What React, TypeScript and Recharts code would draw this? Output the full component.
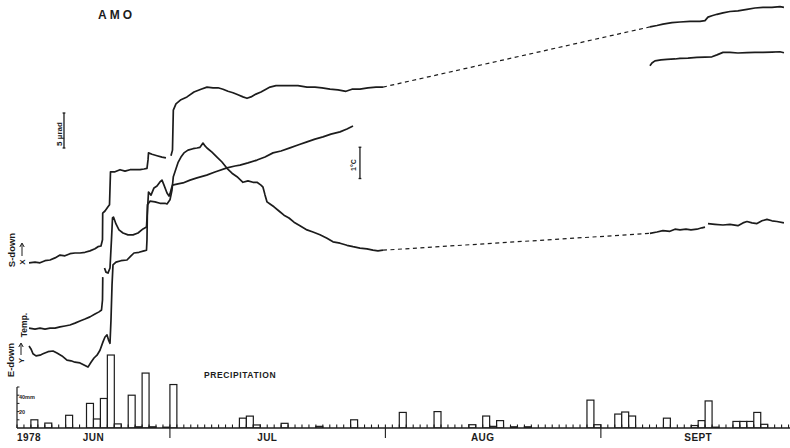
import React from 'react'
import { Bar, ComposedChart, Line, ReferenceLine, XAxis, YAxis } from 'recharts'

const INK = '#1c1c1c'
const FONT = '"Liberation Sans", Arial, Helvetica, sans-serif'
const DAY_PX = 6.95

// time axis: days counted from 1 June 1978 (day 30 = 1 Jul, 61 = 1 Aug, 92 = 1 Sep)
const dayTicks = Array.from({ length: 112 }, (_, i) => 8 + i)
const monthStarts = [30, 61, 92]
const labelDays = [8, 19, 44, 75, 106]
const labelTexts = ['1978', 'JUN', 'JUL', 'AUG', 'SEPT']

// daily precipitation (mm)
const rainDay = [10, 12, 15, 18, 19, 20, 21, 22, 24, 25, 26, 27, 29, 30, 40, 41, 42, 46, 51, 56, 63, 68, 73, 75, 76, 77, 79, 81, 90, 91, 94, 95, 96, 101, 105, 106, 107, 108, 111, 112, 113, 114, 115]
const rainMm = [10, 6, 15.5, 30, 11, 36, 89, 5, 40, 1.5, 67, 1.5, 1, 53, 12, 14.5, 3.7, 5.7, 2, 10, 19, 20, 4, 14.6, 2, 9, 1.5, 1.5, 34, 4, 17, 19.5, 14.6, 12, 3, 9, 33, 1, 8, 8, 8, 19, 4.5]
const rainAxisTicks = [10, 20, 30, 40, 50]

type Pt = [number, number | null]

// S-down tilt X (µrad, arbitrary origin)
const sDownX: Pt[] = [
  [9.73, 23.6], [10.59, 23.7], [11.31, 23.6], [12.03, 23.9], [12.75, 24.0], [13.47, 24.3], [14.19, 24.7], [14.9, 24.6],
  [15.62, 24.9], [16.34, 25.0], [17.06, 25.0], [17.78, 25.1], [18.5, 25.3], [19.22, 25.6], [19.65, 25.9], [20.08, 26.0],
  [20.3, 26.9], [20.33, 30.7], [20.66, 31.0], [21.09, 31.6], [21.31, 31.9], [21.45, 36.6], [22.1, 36.6], [22.82, 36.9],
  [23.54, 36.7], [24.26, 36.9], [24.98, 36.9], [25.69, 36.9], [26.27, 37.0], [26.7, 37.1], [26.85, 38.3], [26.92, 39.3],
  [27.42, 39.1], [28.14, 38.9], [28.86, 38.7], [29.43, 38.6], [29.8, null], [30.15, 38.9], [30.37, 39.7], [30.49, 45.4],
  [30.87, 46.3], [31.59, 46.9], [32.46, 47.3], [33.46, 48.0], [34.47, 48.4], [35.33, 48.7], [36.2, 48.6], [36.92, 48.6],
  [37.64, 48.4], [38.35, 48.1], [39.07, 47.9], [39.79, 47.6], [40.51, 47.3], [41.09, 47.1], [41.66, 47.3], [42.38, 47.7],
  [43.1, 48.0], [43.82, 48.4], [44.4, 48.7], [45.26, 48.9], [46.27, 48.9], [47.27, 48.9], [48.42, 48.9], [49.72, 48.7],
  [50.87, 48.7], [51.88, 48.6], [53.03, 48.4], [54.18, 48.3], [55.33, 48.1], [56.19, 48.4], [57.34, 48.4], [58.49, 48.6],
  [59.65, 48.7], [60.65, 48.7],
]
const sDownGap: Pt[] = [[60.65, 48.7], [99.06, 57.3]]
const sDownLate: Pt[] = [
  [99.06, 57.3], [100.07, 57.5], [100.93, 57.7], [102.23, 57.9], [103.38, 58.0], [104.82, 58.1], [106.26, 58.1],
  [106.98, 58.2], [107.41, 58.7], [107.98, 58.9], [108.7, 59.1], [109.57, 59.3], [110.57, 59.5], [111.72, 59.6],
  [113.02, 59.8], [114.17, 60.0], [115.32, 60.1], [116.61, 60.1], [117.77, 60.2], [118.34, 60.1],
]

// temperature (°C, arbitrary origin)
const temp: Pt[] = [
  [9.73, 3.19], [10.59, 3.16], [11.31, 3.19], [12.03, 3.16], [12.75, 3.19], [13.47, 3.19], [14.19, 3.23], [14.9, 3.26],
  [15.62, 3.29], [16.34, 3.35], [17.06, 3.42], [17.78, 3.48], [18.5, 3.55], [19.22, 3.64], [19.8, 3.71], [20.16, 3.77],
  [20.3, 4.09], [20.34, 4.82], [20.45, null], [20.59, 5.11], [20.8, 4.98], [21.09, 4.95], [21.38, 5.11], [21.59, 6.01],
  [21.74, 6.71], [21.88, 6.74], [22.24, 6.52], [22.67, 6.33], [23.25, 6.23], [23.97, 6.17], [24.69, 6.17], [25.41, 6.23],
  [26.13, 6.36], [26.63, 6.42], [26.77, 6.96], [26.92, 7.54], [27.28, 7.44], [27.71, 7.67], [28.14, 7.73], [28.57, 7.86],
  [28.86, 7.92], [29.15, 7.76], [29.58, 7.51], [29.87, 7.41], [30.01, 7.48], [30.15, 7.6], [30.37, 7.76], [31.16, 7.8],
  [31.88, 7.83], [32.89, 7.92], [33.89, 7.99], [35.29, 8.08], [36.48, 8.18], [38.21, 8.31], [39.36, 8.37], [40.08, 8.4],
  [41.23, 8.47], [42.53, 8.56], [43.68, 8.66], [44.83, 8.79], [45.98, 8.85], [47.27, 8.95], [48.42, 9.04], [49.72, 9.14],
  [50.87, 9.23], [52.02, 9.3], [53.17, 9.39], [54.47, 9.46], [55.47, 9.55], [56.34, 9.65],
]
const tempLate: Pt[] = [
  [99.06, 11.57], [99.35, 11.66], [99.78, 11.73], [100.65, 11.76], [101.51, 11.78], [102.66, 11.79], [103.38, 11.81],
  [104.53, 11.82], [105.82, 11.84], [106.98, 11.85], [107.98, 11.86], [108.7, 11.92], [109.57, 12.0], [110.57, 12.0],
  [111.72, 11.98], [113.02, 11.99], [114.17, 12.0], [115.32, 12.0], [116.61, 12.01], [117.77, 12.02], [118.34, 11.99],
]

// E-down tilt Y (µrad, arbitrary origin)
const eDownY: Pt[] = [
  [9.73, 11.7], [10.01, 11.3], [10.3, 10.6], [10.73, 10.3], [11.31, 10.4], [11.74, 10.6], [12.46, 10.9], [13.18, 11.0],
  [13.75, 10.7], [14.47, 10.3], [15.19, 9.7], [15.77, 9.6], [16.34, 9.4], [17.06, 9.3], [17.64, 9.0], [18.21, 8.7],
  [18.65, 9.4], [19.08, 10.0], [19.51, 10.4], [19.94, 11.1], [20.37, 12.3], [20.66, 13.0], [20.95, 13.3], [21.16, 12.6],
  [21.38, 12.1], [21.52, 15.4], [21.67, 20.4], [21.81, 23.3], [22.24, 23.7], [22.96, 23.9], [23.82, 24.0], [24.4, 24.6],
  [24.83, 25.0], [25.55, 25.1], [26.27, 25.3], [26.63, 25.4], [26.7, 26.9], [26.77, 31.9], [27.13, 32.4], [27.85, 32.3],
  [28.57, 32.1], [29.29, 32.1], [29.58, 32.0], [30.01, 32.6], [30.3, 34.0], [30.49, 35.9], [30.73, 36.6], [31.16, 37.9],
  [31.59, 38.7], [32.02, 39.3], [32.6, 39.7], [33.32, 39.9], [33.89, 40.0], [34.33, 40.1], [34.76, 40.7], [35.05, 40.3],
  [35.33, 40.0], [36.05, 39.4], [36.77, 38.7], [37.49, 38.0], [38.21, 37.1], [38.93, 36.4], [39.65, 35.9], [40.51, 35.1],
  [41.23, 35.3], [41.95, 35.1], [42.53, 35.1], [43.1, 34.7], [43.39, 34.4], [43.68, 33.3], [43.97, 32.3], [44.4, 32.0],
  [44.97, 31.6], [45.69, 31.0], [46.41, 30.4], [47.13, 30.0], [47.85, 29.4], [48.71, 28.9], [49.72, 28.3], [50.58, 28.0],
  [51.59, 27.6], [52.6, 27.1], [53.46, 26.6], [54.47, 26.4], [55.47, 26.1], [56.34, 25.9], [57.34, 25.7], [58.35, 25.6],
  [59.21, 25.4], [59.93, 25.3], [60.65, 25.4],
]
const eDownGap: Pt[] = [[60.65, 25.4], [99.06, 27.8]]
const eDownLate: Pt[] = [
  [99.06, 27.8], [100.07, 28.0], [100.93, 28.2], [101.94, 28.1], [102.66, 28.4], [103.38, 28.3], [104.24, 28.4],
  [104.96, 28.3], [105.82, 28.4], [106.54, 28.6], [106.98, 28.7], [107.2, null], [107.41, 29.2], [108.41, 29.1],
  [109.57, 29.0], [110.57, 29.1], [111.72, 28.9], [112.44, 29.3], [113.02, 29.5], [113.74, 29.3], [114.46, 29.2],
  [115.18, 29.6], [115.89, 29.8], [116.61, 29.6], [117.33, 29.5], [118.34, 29.3],
]

// scale bars: 5 µrad and 1 °C
const tiltBar = { day: 14.76, from: 40, to: 45 }
const tempBar = { day: 57.34, from: 7.97, to: 8.97 }

const rows = (pts: Pt[]) => pts.map(([day, v]) => ({ day, v }))
const rainData = rainDay.map((d, i) => ({ day: d + 0.5, mm: rainMm[i] }))

function DayTick(props: any) {
  const { x, y, payload } = props
  const d = payload.value
  const month = monthStarts.includes(d)
  const li = labelDays.indexOf(d)
  return (
    <g>
      <line x1={x} x2={x} y1={y - 3.5} y2={y + (month ? 10 : 0)} stroke={INK} strokeWidth={1.1} />
      {li >= 0 && (
        <text
          x={x}
          y={y + 12.5}
          textAnchor={li === 0 ? 'start' : 'middle'}
          fontFamily={FONT}
          fontWeight="bold"
          fontSize={10}
          letterSpacing={0.4}
          fill={INK}
        >
          {labelTexts[li]}
        </text>
      )}
    </g>
  )
}

// one-day-wide open bar, centred on the x the library computed
function DayBar(props: any) {
  const { x, y, width, height } = props
  if (height == null || height <= 0) return null
  const cx = x + width / 2
  return <rect x={cx - DAY_PX / 2} y={y} width={DAY_PX} height={height} fill="#fff" stroke={INK} strokeWidth={1.2} />
}

const traceProps = {
  type: 'linear' as const,
  dataKey: 'v',
  stroke: INK,
  strokeWidth: 1.7,
  dot: false,
  activeDot: false,
  isAnimationActive: false,
  strokeLinejoin: 'round' as const,
}
const gapProps = { ...traceProps, strokeWidth: 1.2, strokeDasharray: '4 3.5' }

function VText({ x, y, size, children, bold = true }: any) {
  return (
    <text
      x={x}
      y={y}
      transform={`rotate(-90 ${x} ${y})`}
      textAnchor="middle"
      dominantBaseline="central"
      fontFamily={FONT}
      fontWeight={bold ? 'bold' : 'normal'}
      fontSize={size}
      fill={INK}
    >
      {children}
    </text>
  )
}

export default function App() {
  return (
    <div style={{ position: 'absolute', left: 0, top: 0, width: 790, height: 448, background: '#fff' }}>
      <ComposedChart width={790} height={448} data={rainData} margin={{ top: 0, right: 0, bottom: 0, left: 17 }}>
        <XAxis
          type="number"
          dataKey="day"
          domain={[8, 119.21]}
          allowDataOverflow
          ticks={dayTicks}
          interval={0}
          tickLine={false}
          tickSize={0}
          tickMargin={0}
          tick={(p: any) => <DayTick {...p} />}
          height={20}
          axisLine={{ stroke: INK, strokeWidth: 1.4 }}
        />
        <YAxis yAxisId="tilt" hide domain={[0, 61.143]} allowDataOverflow />
        <YAxis yAxisId="temp" hide domain={[0, 13.674]} allowDataOverflow />
        <YAxis yAxisId="rain" hide domain={[0, 522]} allowDataOverflow />

        <Bar yAxisId="rain" dataKey="mm" barSize={7} shape={(p: any) => <DayBar {...p} />} isAnimationActive={false} />

        <ReferenceLine yAxisId="rain" segment={[{ x: 8, y: 0 }, { x: 8, y: 50 }]} stroke={INK} strokeWidth={1.2} />
        {rainAxisTicks.map((t) => (
          <ReferenceLine key={t} yAxisId="rain" segment={[{ x: 8, y: t }, { x: 8.35, y: t }]} stroke={INK} strokeWidth={1} />
        ))}

        <ReferenceLine yAxisId="tilt" segment={[{ x: tiltBar.day, y: tiltBar.from }, { x: tiltBar.day, y: tiltBar.to }]} stroke={INK} strokeWidth={1.3} />
        <ReferenceLine yAxisId="tilt" segment={[{ x: tiltBar.day - 0.2, y: tiltBar.from }, { x: tiltBar.day + 0.2, y: tiltBar.from }]} stroke={INK} strokeWidth={1.3} />
        <ReferenceLine yAxisId="tilt" segment={[{ x: tiltBar.day - 0.2, y: tiltBar.to }, { x: tiltBar.day + 0.2, y: tiltBar.to }]} stroke={INK} strokeWidth={1.3} />
        <ReferenceLine yAxisId="temp" segment={[{ x: tempBar.day, y: tempBar.from }, { x: tempBar.day, y: tempBar.to }]} stroke={INK} strokeWidth={1.3} />
        <ReferenceLine yAxisId="temp" segment={[{ x: tempBar.day - 0.2, y: tempBar.from }, { x: tempBar.day + 0.2, y: tempBar.from }]} stroke={INK} strokeWidth={1.3} />
        <ReferenceLine yAxisId="temp" segment={[{ x: tempBar.day - 0.2, y: tempBar.to }, { x: tempBar.day + 0.2, y: tempBar.to }]} stroke={INK} strokeWidth={1.3} />

        <Line yAxisId="tilt" data={rows(sDownX)} {...traceProps} />
        <Line yAxisId="tilt" data={rows(sDownGap)} {...gapProps} />
        <Line yAxisId="tilt" data={rows(sDownLate)} {...traceProps} />
        <Line yAxisId="temp" data={rows(temp)} {...traceProps} />
        <Line yAxisId="temp" data={rows(tempLate)} {...traceProps} />
        <Line yAxisId="tilt" data={rows(eDownY)} {...traceProps} />
        <Line yAxisId="tilt" data={rows(eDownGap)} {...gapProps} />
        <Line yAxisId="tilt" data={rows(eDownLate)} {...traceProps} />
      </ComposedChart>

      <svg width={790} height={448} style={{ position: 'absolute', left: 0, top: 0, pointerEvents: 'none' }}>
        <text x={98} y={18.5} fontFamily={FONT} fontWeight="bold" fontSize={12} letterSpacing={3} fill={INK}>AMO</text>
        <text x={204} y={377.5} fontFamily={FONT} fontWeight="bold" fontSize={8.5} letterSpacing={0.6} fill={INK}>PRECIPITATION</text>
        <text x={19} y={398.5} fontFamily={FONT} fontWeight="bold" fontSize={5.5} fill={INK}>40mm</text>
        <text x={19} y={413.5} fontFamily={FONT} fontWeight="bold" fontSize={5.5} fill={INK}>20</text>

        <VText x={11} y={250} size={9.5}>S-down</VText>
        <VText x={22.5} y={262} size={8}>X</VText>
        <line x1={22} x2={22} y1={256} y2={244} stroke={INK} strokeWidth={1} />
        <path d="M19.8,247 L22,243 L24.2,247" fill="none" stroke={INK} strokeWidth={1} />

        <VText x={23.5} y={325} size={8.5}>Temp.</VText>

        <VText x={10} y={360} size={9.5}>E-down</VText>
        <VText x={21.5} y={360.5} size={8}>Y</VText>
        <line x1={21} x2={21} y1={355} y2={344} stroke={INK} strokeWidth={1} />
        <path d="M18.8,347 L21,343 L23.2,347" fill="none" stroke={INK} strokeWidth={1} />

        <VText x={59} y={134} size={8}>5 µrad</VText>
        <VText x={353} y={165} size={7}>1°C</VText>
      </svg>
    </div>
  )
}
